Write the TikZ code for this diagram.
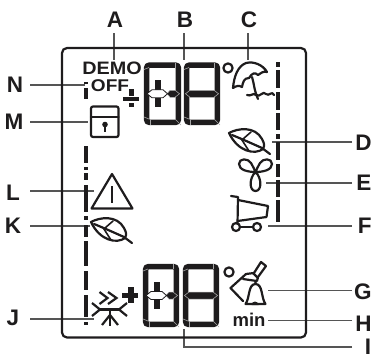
\documentclass[tikz,border=0pt]{standalone}
\usepackage{fontspec}
\setmainfont{Liberation Sans}
\definecolor{ink}{HTML}{1E1C1D}
\definecolor{lead}{HTML}{555555}
\tikzset{x=1pt,y=-1pt,
 lbl/.style={inner sep=0pt,outer sep=0pt,text=ink,font=\fontsize{22.5}{22.5}\selectfont\bfseries},
 leader/.style={draw=lead,line width=1.3pt},
 ico/.style={draw=ink,line width=2.2pt,line join=round,line cap=round},
 seg/.style={draw=ink,line width=5.5pt},
 gap/.style={draw=gray!70,line width=.6pt},
 dashbar/.style={draw=ink,line width=3.6pt},
}
% digit: #1 left, #2 top, #3 width, #4 height
\newcommand{\lcdframe}[4]{%
 \draw[seg,rounded corners=2.5pt] (#1+2.7,#2+2.7) rectangle (#1+#3-2.7,#2+#4-2.7);
 \draw[gap] (#1,#2+7) -- (#1+5,#2+5);
 \draw[gap] (#1+#3-6,#2) -- (#1+#3-6,#2+5);
 \draw[gap] (#1+#3-6,#2+#4-6) -- (#1+#3,#2+#4);
 \draw[gap] (#1,#2+#4-8) -- (#1+5,#2+#4-6);
 \draw[gap] (#1+6,#2+#4-5) -- (#1+6,#2+#4);
}
\newcommand{\lcdmidfull}[4]{%
 \path[fill=ink,draw=gray!60,line width=.5pt] (#1+1.5,#2+#4*.5) -- (#1+6,#2+#4*.5-3.5) -- (#1+#3-6,#2+#4*.5-3.5) -- (#1+#3-1.5,#2+#4*.5) -- (#1+#3-6,#2+#4*.5+3.5) -- (#1+6,#2+#4*.5+3.5) -- cycle;
}
\newcommand{\lcdmidplus}[4]{%
 \fill[ink] (#1+10.5,#2+#4*.5-13.5) rectangle (#1+16.5,#2+#4*.5+13.5);
 \path[fill=ink,draw=gray!60,line width=.5pt] (#1+23,#2+#4*.5) -- (#1+26,#2+#4*.5-3.5) -- (#1+#3-6,#2+#4*.5-3.5) -- (#1+#3-1.5,#2+#4*.5) -- (#1+#3-6,#2+#4*.5+3.5) -- (#1+26,#2+#4*.5+3.5) -- cycle;
 \path[fill=white,draw=ink,line width=.8pt] (#1+3,#2+#4*.5) -- (#1+8,#2+#4*.5-4) -- (#1+19,#2+#4*.5-4) -- (#1+23.5,#2+#4*.5) -- (#1+19,#2+#4*.5+4) -- (#1+8,#2+#4*.5+4) -- cycle;
}
\newcommand{\leafat}[2]{%
 \begin{scope}[shift={(#1,#2)}]
 \draw[ico] (0,0) .. controls (9,-5) and (26,-7) .. (33,6) .. controls (35,10) and (36,12) .. (34,16) .. controls (26,22) and (9,19) .. cycle;
 \draw[ico] (33,15) -- (41,21);
 \draw[ico] (3,2) .. controls (13,6) and (24,11) .. (33,15);
 \draw[ico,line width=1.6pt] (14,6) -- (22,-1);
 \draw[ico,line width=1.6pt] (12,5.5) -- (20,18);
 \end{scope}
}
\begin{document}
\begin{tikzpicture}
\useasboundingbox (0,0) rectangle (372,357);
% labels
\node[lbl] (lA) at (115,19.5) {A};
\node[lbl] (lB) at (185,19.5) {B};
\node[lbl] (lC) at (249,19.5) {C};
\node[lbl] (lN) at (15,85) {N};
\node[lbl] (lM) at (14,122) {M};
\node[lbl] (lL) at (13,193) {L};
\node[lbl] (lK) at (13,226) {K};
\node[lbl] (lJ) at (13,318) {J};
\node[lbl,anchor=east] (lD) at (371.5,143) {D};
\node[lbl,anchor=east] (lE) at (371.5,183) {E};
\node[lbl,anchor=east] (lF) at (371.5,226) {F};
\node[lbl,anchor=east] (lG) at (371.5,292) {G};
\node[lbl,anchor=east] (lH) at (371.5,323.5) {H};
\node[lbl,anchor=east] (lI) at (371,346.5) {I};
% leader ends
\coordinate (tA) at (114,60);
\coordinate (tB) at (184,60);
\coordinate (tC) at (248,60);
\coordinate (tN) at (85,85);
\coordinate (tM) at (88,122);
\coordinate (tL) at (94,191);
\coordinate (tK) at (90,226);
\coordinate (tJ) at (94,319);
\coordinate (tD) at (272,142);
\coordinate (tE) at (266,183);
\coordinate (tF) at (268,226);
\coordinate (tG) at (268,290.5);
\coordinate (tH) at (268,320.5);
\coordinate (tI) at (184,329);
\coordinate (bI) at (184,347);
\draw[leader] (114,33) -- (tA);
\draw[leader] (184,33) -- (tB);
\draw[leader] (248,33) -- (tC);
\draw[leader] (30,85) -- (tN);
\draw[leader] (30,122) -- (tM);
\draw[leader] (30,191) -- (tL);
\draw[leader] (30,226) -- (tK);
\draw[leader] (30,319) -- (tJ);
\draw[leader] (352,142) -- (tD);
\draw[leader] (352,183) -- (tE);
\draw[leader] (352,226) -- (tF);
\draw[leader] (352,290.5) -- (tG);
\draw[leader] (352,320.5) -- (tH);
\draw[leader] (352,347) -- (bI) -- (tI);
% frame
\draw[ink,line width=2.2pt,rounded corners=5pt] (62,48) rectangle (306,337.5);
% dashes
\foreach \a/\b in {82/84,88/99,146/163,167/170,173/180,185/212,216/220,225/237,241/266,271/290,295/317,322/325}
  \draw[dashbar] (85.8,\a) -- (85.8,\b);
\foreach \a/\b in {62/67,70/88,92/110,113/130,134/139,142/160,164/177,180/197,200/222}
  \draw[dashbar] (278,\a) -- (278,\b);
% texts
\node[inner sep=0pt,text=ink,font=\fontsize{18}{18}\selectfont\bfseries,xscale=1.1] (demo) at (112,68) {DEMO};
\node[inner sep=0pt,text=ink,font=\fontsize{17}{17}\selectfont\bfseries,xscale=1.12] (off) at (110,85.5) {OFF};
\node[inner sep=0pt,text=ink,font=\fontsize{18.5}{18.5}\selectfont\bfseries] (min) at (249,320) {min};
% digits
\lcdframe{144}{62.5}{37}{62.5}
\lcdframe{184}{62.5}{36}{62.5}
\lcdmidplus{144}{62.5}{37}{62.5}
\lcdmidfull{184}{62.5}{36}{62.5}
\lcdframe{143}{264}{36}{63}
\lcdframe{183}{264}{36}{63}
\lcdmidplus{143}{264}{36}{63}
\lcdmidfull{183}{264}{36}{63}
% signs
\fill[ink] (123,97) rectangle (139,101);
\fill[ink] (128.5,89) rectangle (134,95.5);
\fill[ink] (128.5,102.5) rectangle (134,107);
\fill[ink] (122,293) rectangle (138,297.5);
\fill[ink] (127.5,287) rectangle (133.5,303);
% degrees
\draw[ico] (228,68) circle (4.6);
\draw[ico] (229,272) circle (4.6);
% lock
\draw[ico,rounded corners=2pt] (91,106.5) rectangle (118.5,137);
\draw[ico] (91,117) -- (118.5,117);
\fill[ink] (105,124.5) circle (2.8);
\draw[ink,line width=2pt] (105,125) -- (105,132);
% triangle
\draw[ico] (112,174) -- (132.5,208.5) -- (91.5,208.5) -- cycle;
\draw[ink,line width=2pt] (112,186) -- (112,203);
% leaves
\leafat{91}{222}
\leafat{229}{133}
% fan
\draw[ico] (255.5,172) .. controls (249,178) and (249,191) .. (255.5,191) .. controls (262,191) and (262,178) .. (255.5,172)
  .. controls (248,172) and (239,170) .. (239,164) .. controls (239,158) and (248,158) .. (251,163) .. controls (253,166) and (254,169) .. (255.5,172)
  .. controls (257,169) and (258,166) .. (260,163) .. controls (263,158) and (272,158) .. (272,164) .. controls (272,170) and (263,172) .. (255.5,172);
% cart
\draw[ico] (231,196) -- (238,197) -- (237.5,224);
\draw[ico] (238,200) -- (268,206) -- (266.5,217) -- (237.5,221);
\draw[ico] (236,227) circle (4);
\draw[ico] (257,227) circle (4);
\draw[ico] (240,227) -- (253,227);
% umbrella
\draw[ico] (233,88) .. controls (234,76) and (238,66) .. (246,63) .. controls (254,61) and (263,65) .. (267,72)
  .. controls (263,71) and (261,73) .. (258,75) .. controls (255,72) and (252,73) .. (249,78) .. controls (244,78) and (243,82) .. (242,87) .. controls (239,85) and (236,86) .. (233,88) -- cycle;
\draw[ico] (252,77) .. controls (254,83) and (254,90) .. (258,99);
\draw[ico] (247,95) .. controls (251,97) and (253,92) .. (256,95) .. controls (260,98) and (263,90) .. (266,94) .. controls (269,97) and (272,90) .. (274,95);
% brush and bell
\draw[ico] (246,274) -- (230.5,288) -- (243,301);
\draw[ico] (246,274) -- (254,273) -- (261,262) -- (266,266) -- (258,277) -- (257,281) -- (243,279);
\draw[ico] (253,273) -- (258,278);
\draw[ico,fill=white] (245.5,304) .. controls (250,298) and (248,284) .. (255.5,284) .. controls (263,284) and (261,298) .. (265.5,304) -- cycle;
\fill[ink] (251.5,305) arc[start angle=180,end angle=360,radius=3.5] -- cycle;
\fill[ink] (255.5,282) circle (1.5);
% snow
\draw[ico,line width=2.2pt,line cap=butt,line join=miter] (99.5,292) -- (107.5,298) -- (99.5,304);
\draw[ico,line width=2.2pt,line cap=butt,line join=miter] (108,292) -- (116.5,298) -- (108,304);
\draw[ico,line width=2.2pt,line cap=butt] (100,309.5) -- (119,309.5);
\draw[ico,line width=2.2pt,line cap=butt] (92,303) -- (100,309.5) -- (92,316);
\draw[ico,line width=2.2pt,line cap=butt] (127,303) -- (119,309.5) -- (127,316);
\draw[ico,line width=2.2pt,line cap=butt] (110,309.5) -- (110,326);
\draw[ico,line width=2.2pt,line cap=butt] (102,325) -- (110,315) -- (118,325);
\end{tikzpicture}
\end{document}
